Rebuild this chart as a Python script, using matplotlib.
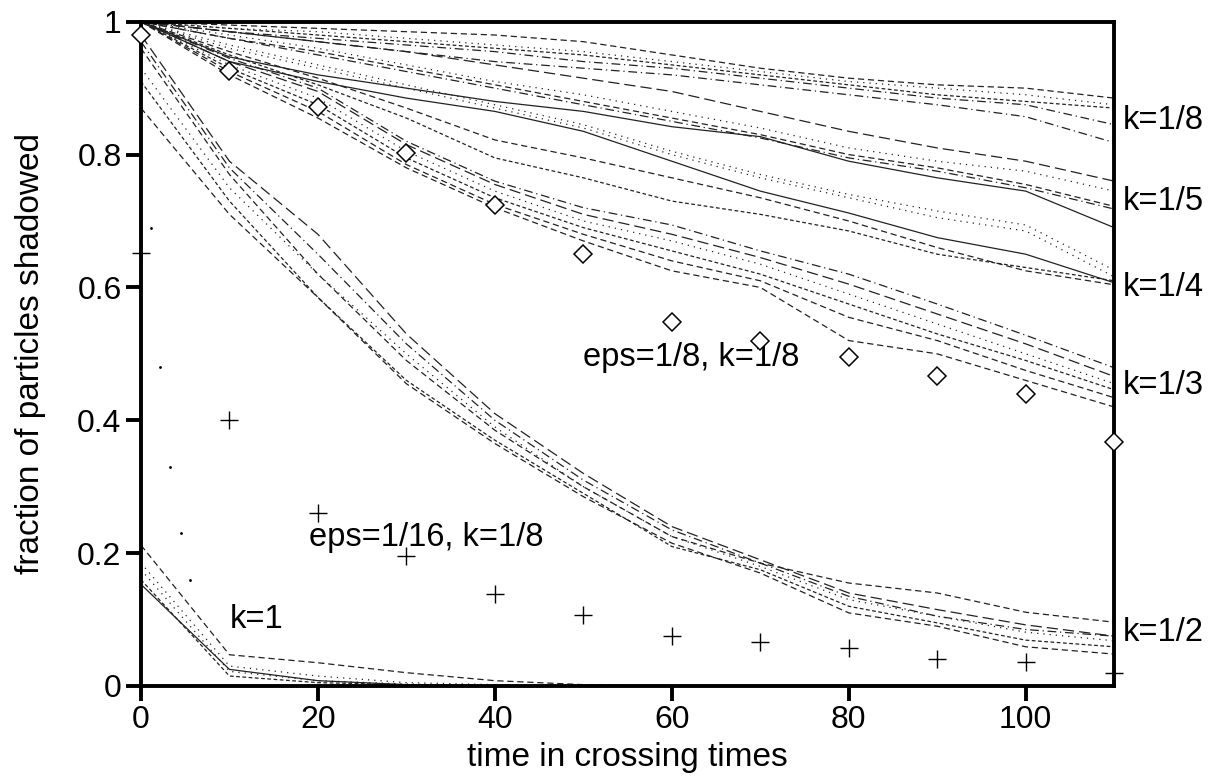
import matplotlib.pyplot as plt
import numpy as np

plt.rcParams['font.family'] = ['Liberation Sans', 'DejaVu Sans']

# time in crossing times (sample points of every curve)
T = [0, 10, 20, 30, 40, 50, 60, 70, 80, 90, 100, 110]

# k = 1/8 curves
K8_A = [1.0, 0.995, 0.99, 0.985, 0.98, 0.97, 0.95, 0.93, 0.915, 0.905, 0.90, 0.885]
K8_B = [1.0, 0.99, 0.985, 0.975, 0.965, 0.955, 0.94, 0.925, 0.91, 0.90, 0.89, 0.875]
K8_C = [1.0, 0.99, 0.98, 0.97, 0.96, 0.95, 0.935, 0.92, 0.905, 0.89, 0.88, 0.87]
K8_D = [1.0, 0.985, 0.975, 0.965, 0.955, 0.94, 0.93, 0.915, 0.90, 0.885, 0.875, 0.845]
K8_E = [1.0, 0.985, 0.97, 0.955, 0.94, 0.93, 0.92, 0.905, 0.89, 0.875, 0.857, 0.818]

# k = 1/5 curves
K5_A = [1.0, 0.985, 0.97, 0.955, 0.935, 0.915, 0.895, 0.865, 0.835, 0.81, 0.79, 0.76]
K5_B = [1.0, 0.98, 0.96, 0.935, 0.91, 0.89, 0.865, 0.84, 0.81, 0.79, 0.775, 0.745]
K5_C = [1.0, 0.975, 0.955, 0.93, 0.905, 0.88, 0.855, 0.83, 0.80, 0.78, 0.755, 0.722]
K5_D = [1.0, 0.975, 0.95, 0.925, 0.90, 0.875, 0.85, 0.825, 0.795, 0.775, 0.75, 0.718]
K5_S = [1.0, 0.947, 0.92, 0.90, 0.88, 0.865, 0.842, 0.827, 0.79, 0.765, 0.745, 0.69]

# k = 1/4 curves
K4_A = [1.0, 0.965, 0.935, 0.905, 0.875, 0.845, 0.805, 0.77, 0.74, 0.715, 0.694, 0.626]
K4_B = [1.0, 0.96, 0.93, 0.90, 0.87, 0.84, 0.80, 0.765, 0.735, 0.705, 0.685, 0.616]
K4_S = [1.0, 0.94, 0.91, 0.885, 0.865, 0.835, 0.79, 0.745, 0.712, 0.675, 0.65, 0.607]
K4_C = [1.0, 0.955, 0.915, 0.87, 0.822, 0.795, 0.765, 0.735, 0.70, 0.66, 0.625, 0.604]
K4_D = [1.0, 0.95, 0.905, 0.855, 0.795, 0.765, 0.73, 0.71, 0.685, 0.65, 0.63, 0.61]

# k = 1/3 curves
K3_A = [1.0, 0.945, 0.90, 0.82, 0.76, 0.72, 0.694, 0.655, 0.62, 0.575, 0.528, 0.479]
K3_B = [1.0, 0.94, 0.895, 0.815, 0.755, 0.71, 0.68, 0.645, 0.605, 0.56, 0.515, 0.466]
K3_C = [1.0, 0.935, 0.885, 0.805, 0.745, 0.70, 0.67, 0.635, 0.59, 0.545, 0.50, 0.455]
K3_D = [1.0, 0.93, 0.875, 0.795, 0.735, 0.69, 0.655, 0.62, 0.575, 0.53, 0.49, 0.446]
K3_E = [1.0, 0.925, 0.865, 0.785, 0.725, 0.68, 0.64, 0.61, 0.555, 0.52, 0.475, 0.434]
K3_F = [1.0, 0.92, 0.855, 0.78, 0.72, 0.67, 0.625, 0.60, 0.52, 0.50, 0.46, 0.42]

# k = 1/2 curves
K2_A = [0.96, 0.77, 0.62, 0.49, 0.385, 0.30, 0.225, 0.185, 0.155, 0.14, 0.111, 0.096]
K2_B = [0.98, 0.79, 0.68, 0.53, 0.41, 0.32, 0.24, 0.19, 0.14, 0.115, 0.092, 0.075]
K2_C = [0.97, 0.78, 0.65, 0.515, 0.40, 0.31, 0.235, 0.185, 0.135, 0.105, 0.085, 0.075]
K2_D = [0.93, 0.75, 0.62, 0.50, 0.39, 0.30, 0.225, 0.18, 0.13, 0.105, 0.081, 0.068]
K2_E = [0.91, 0.73, 0.585, 0.46, 0.37, 0.29, 0.21, 0.175, 0.12, 0.095, 0.069, 0.059]
K2_F = [0.87, 0.71, 0.585, 0.455, 0.365, 0.285, 0.215, 0.17, 0.11, 0.09, 0.059, 0.048]

# k = 1 curves
K1_S = [0.153, 0.025, 0.008, 0.002, 0, 0, 0, 0, 0, 0, 0, 0]
K1_A = [0.212, 0.047, 0.035, 0.02, 0.008, 0.002, 0, 0, 0, 0, 0, 0]
K1_B = [0.185, 0.03, 0.015, 0.005, 0.002, 0, 0, 0, 0, 0, 0, 0]
K1_C = [0.175, 0.022, 0.008, 0.003, 0, 0, 0, 0, 0, 0, 0, 0]
K1_D = [0.16, 0.015, 0.005, 0.002, 0, 0, 0, 0, 0, 0, 0, 0]

# markers
EPS8 = [0.98, 0.926, 0.872, 0.803, 0.724, 0.65, 0.548, 0.52, 0.495, 0.467, 0.44, 0.367]
EPS16 = [0.652, 0.40, 0.26, 0.196, 0.139, 0.107, 0.075, 0.066, 0.057, 0.041, 0.036, 0.02]
DOT_T = [1.1, 2.2, 3.3, 4.5, 5.5]
DOT_Y = [0.69, 0.48, 0.33, 0.23, 0.16]

SOLID = '-'
DASH = (0, (5, 3))
LDASH = (0, (9, 4))
DOT = (0, (1, 4))
DASHDOT = (0, (7, 3, 1, 3))
FDASH = (0, (3, 2))

groups = [
    [(K8_A, DASH), (K8_B, DOT), (K8_C, FDASH), (K8_D, DASHDOT), (K8_E, DASHDOT)],
    [(K5_A, LDASH), (K5_B, DOT), (K5_C, DASH), (K5_D, DASHDOT), (K5_S, SOLID)],
    [(K4_A, DOT), (K4_B, DOT), (K4_S, SOLID), (K4_C, DASH), (K4_D, FDASH)],
    [(K3_A, DASHDOT), (K3_B, LDASH), (K3_C, DOT), (K3_D, FDASH), (K3_E, DASH), (K3_F, DASH)],
    [(K2_A, DASH), (K2_B, LDASH), (K2_C, DASHDOT), (K2_D, DOT), (K2_E, FDASH), (K2_F, DASH)],
    [(K1_S, SOLID), (K1_A, DASH), (K1_B, DOT), (K1_C, DOT), (K1_D, FDASH)],
]

fig = plt.figure(figsize=(12.09, 7.76), dpi=100)
ax = fig.add_axes([0.1166, 0.116, 0.805, 0.856])

for grp in groups:
    for ys, ls in grp:
        ax.plot(T, ys, color='#222222', lw=0.9, linestyle=ls)

ax.plot(T, EPS8, linestyle='none', marker='D', ms=9, mfc='white',
        mec='black', mew=1.1, clip_on=False, zorder=5)
ax.plot(T, EPS16, linestyle='none', marker='+', ms=13, color='black',
        mew=1.0, clip_on=False, zorder=5)
ax.plot(DOT_T, DOT_Y, linestyle='none', marker='.', ms=2, color='black')

ax.set_xlim(0, 110)
ax.set_ylim(0, 1)
ax.set_xticks([0, 20, 40, 60, 80, 100])
ax.set_yticks([0, 0.2, 0.4, 0.6, 0.8, 1.0])
ax.set_yticklabels(['0', '0.2', '0.4', '0.6', '0.8', '1'])
ax.tick_params(direction='out', length=11, width=2.8, labelsize=23, pad=3)
for sp in ax.spines.values():
    sp.set_linewidth(2.8)

ax.set_xlabel('time in crossing times', fontsize=24)
ax.xaxis.set_label_coords(0.5, -0.085)
ax.set_ylabel('fraction of particles shadowed', fontsize=24)
ax.yaxis.set_label_coords(-0.098, 0.5)

lab_kw = dict(fontsize=23.5, va='center', ha='left', clip_on=False)
ax.text(111.0, 0.852, 'k=1/8', **lab_kw)
ax.text(111.0, 0.729, 'k=1/5', **lab_kw)
ax.text(111.0, 0.600, 'k=1/4', **lab_kw)
ax.text(111.0, 0.453, 'k=1/3', **lab_kw)
ax.text(111.0, 0.080, 'k=1/2', **lab_kw)
ax.text(50.0, 0.494, 'eps=1/8, k=1/8', **lab_kw)
ax.text(19.0, 0.224, 'eps=1/16, k=1/8', **lab_kw)
ax.text(10.0, 0.100, 'k=1', **lab_kw)

fig.savefig('out.png', dpi=100)
